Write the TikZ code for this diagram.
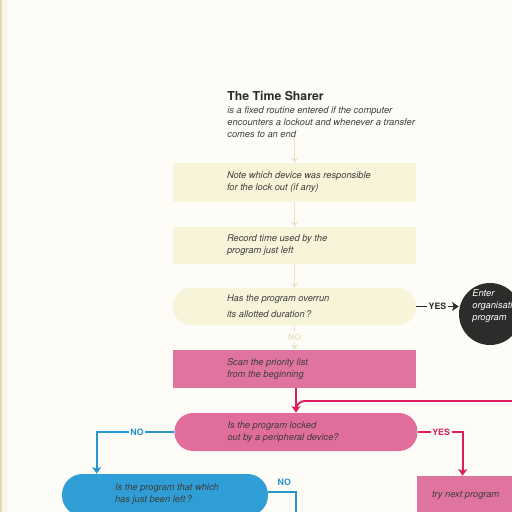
\documentclass[tikz,border=0pt]{standalone}
\usepackage{fontspec}
\setmainfont{TeX Gyre Heros}
\usetikzlibrary{positioning,arrows.meta}
\definecolor{tspaper}{RGB}{253,252,247}
\definecolor{tsedge}{RGB}{226,216,186}
\definecolor{tsedgelight}{RGB}{248,245,232}
\definecolor{tscream}{RGB}{247,244,218}
\definecolor{tspink}{RGB}{224,116,160}
\definecolor{tsmagenta}{RGB}{218,30,96}
\definecolor{tsblue}{RGB}{48,158,214}
\definecolor{tsblueline}{RGB}{40,148,206}
\definecolor{tsdark}{RGB}{44,44,42}
\definecolor{tsink}{RGB}{62,60,58}
\definecolor{tsfaint}{RGB}{234,229,200}

\begin{document}
\begin{tikzpicture}[x=0.02cm, y=-0.02cm, every node/.style={font=\fontsize{5.3}{6.8}\selectfont\itshape, text=tsink}]
  \tikzset{
    flowbox/.style={minimum width=4.86cm, inner sep=0pt},
    pill/.style={flowbox, rounded corners=#1},
    boxtext/.style={inner sep=0pt, align=left},
    lbl/.style={font=\fontsize{5}{6}\selectfont\bfseries, inner sep=1pt, fill=tspaper},
    faintarrow/.style={draw=tsfaint, line width=0.6pt, -{Stealth[length=0.1cm, width=0.14cm]}},
    magline/.style={draw=tsmagenta, line width=1.1pt},
    blueline/.style={draw=tsblueline, line width=1.1pt},
    tip/.style={-{Stealth[length=0.13cm, width=0.18cm, inset=0.03cm]}}
  }

  % Page and its edge
  \useasboundingbox (0,0) rectangle (512,512);
  \fill[tspaper] (0,0) rectangle (512,512);
  \fill[tsedgelight] (0,0) rectangle (8,512);
  \fill[tsedge] (0,0) rectangle (2,512);

  % Heading
  \node[anchor=west, inner sep=0pt, font=\fontsize{7}{8}\selectfont\bfseries, text=tsdark] (title) at (227,96) {The Time Sharer};
  \node[boxtext, anchor=west] (sub) at (227,122) {is a fixed routine entered if the computer\\encounters a lockout and whenever a transfer\\comes to an end};

  % Cream steps
  \node[flowbox, fill=tscream, minimum height=0.78cm] (note) at (294.5,182.5) {};
  \node[boxtext, right=1.08cm of note.west] (notet) {Note which device was responsible\\for the lock out (if any)};
  \node[flowbox, fill=tscream, minimum height=0.74cm] (rec) at (294.5,245.5) {};
  \node[boxtext, right=1.08cm of rec.west] (rect) {Record time used by the\\program just left};
  \node[pill=0.36cm, fill=tscream, minimum height=0.74cm] (over) at (294.5,306.5) {};
  \node[boxtext, right=1.08cm of over.west] (overt) {Has the program overrun\\[2.2pt]its allotted duration\,?};

  % Exit to organisation program
  \node[circle, fill=tsdark, minimum size=1.24cm, inner sep=0pt] (ent) at (490,314) {};
  \node[boxtext, anchor=west, text=white] (entt) at (472,306) {Enter\\organisation\\program};

  % Pink steps
  \node[flowbox, fill=tspink, minimum height=0.76cm] (scan) at (294.5,369) {};
  \node[boxtext, right=1.08cm of scan.west] (scant) {Scan the priority list\\from the beginning};
  \node[pill=0.37cm, fill=tspink!92!tsmagenta, minimum height=0.76cm] (lock) at (296,432) {};
  \node[boxtext, right=1.06cm of lock.west] (lockt) {Is the program locked\\out by a peripheral device?};
  \node[flowbox, fill=tspink, minimum width=2.06cm, minimum height=0.76cm] (next) at (468.5,495) {};
  \node[boxtext, right=0.3cm of next.west] (nextt) {try next program};

  % Blue step
  \node[pill=0.41cm, fill=tsblue, minimum width=4.12cm, minimum height=0.84cm] (prev) at (165,495) {};
  \node[boxtext, right=1.06cm of prev.west, yshift=0.02cm] (prevt) {Is the program that which\\has just been left\,?};

  \coordinate (loopin) at (512,401);
  \coordinate (noout) at (296,520);

  % Connectors
  \draw[faintarrow] (sub.south -| note.north) -- (note.north);
  \draw[faintarrow] (note.south) -- (rec.north);
  \draw[faintarrow] (rec.south) -- (over.north);
  \draw[faintarrow] (over.south) -- node[lbl, text=tsfaint, pos=0.48] {NO} (scan.north);
  \draw[draw=tsdark, line width=0.9pt, tip] (over.east) -- node[lbl, text=tsdark, pos=0.5] {YES} (over.east -| ent.west);
  \draw[magline, rounded corners=5pt] (loopin) -| ([yshift=0.1cm]lock.north);
  \draw[magline, tip] (scan.south -| lock.north) -- (lock.north);
  \draw[magline, tip] (lock.east) -| node[lbl, text=tsmagenta, pos=0.26] {YES} ([xshift=0.92cm]next.north west);
  \draw[blueline, tip] (lock.west) -| node[lbl, text=tsblueline, pos=0.24] {NO} ([xshift=0.7cm]prev.north west);
  \draw[blueline] ([yshift=0.06cm]prev.east) -| node[lbl, text=tsblueline, pos=0.29, above=2pt, fill=none] {NO} (noout);
\end{tikzpicture}
\end{document}
